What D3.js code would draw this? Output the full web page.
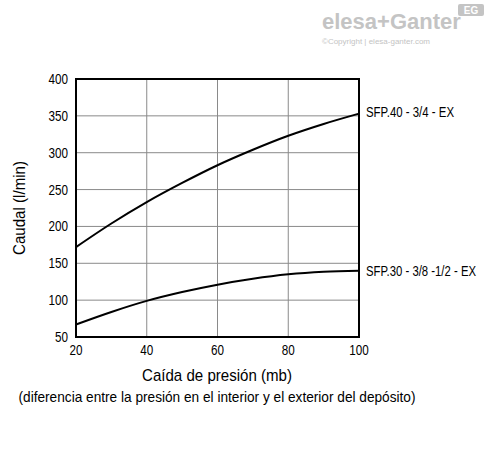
<!DOCTYPE html>
<html>
<head>
<meta charset="utf-8">
<script src="https://cdn.jsdelivr.net/npm/d3@7"></script>
<style>
body { margin: 0; background: #fff; }
text { font-family: "Liberation Sans Narrow", "Arial Narrow", "Liberation Sans", Arial, sans-serif; }
</style>
</head>
<body>
<div id="chart"></div>
<script>
const xTicks = [20, 40, 60, 80, 100];
const yTicks = [50, 100, 150, 200, 250, 300, 350, 400];
const pressure = [20, 30, 40, 50, 60, 70, 80, 90, 100];
const sfp40 = [172, 204, 233, 259, 283, 304, 323, 339, 353];
const sfp30 = [67, 84, 99, 111, 121, 129, 135, 138.5, 140];
const seriesNames = ["SFP.40 - 3/4 - EX", "SFP.30 - 3/8 -1/2 - EX"];

const svg = d3.select("#chart").append("svg")
    .attr("width", 488)
    .attr("height", 454);

const pLeft = 76, pRight = 359, pTop = 79, pBottom = 337;
const x = d3.scaleLinear().domain([20, 100]).range([pLeft, pRight]);
const y = d3.scaleLinear().domain([50, 400]).range([pBottom, pTop]);

// squeeze text to look like the condensed face of the original
function narrow(sel, len) {
    return sel.attr("textLength", len).attr("lengthAdjust", "spacingAndGlyphs");
}

// grid
svg.append("g").selectAll("line").data(xTicks).join("line")
    .attr("x1", d => x(d)).attr("x2", d => x(d))
    .attr("y1", pTop).attr("y2", pBottom)
    .attr("stroke", "#8a8a8a").attr("stroke-width", 1);
svg.append("g").selectAll("line").data(yTicks).join("line")
    .attr("x1", pLeft).attr("x2", pRight)
    .attr("y1", d => y(d)).attr("y2", d => y(d))
    .attr("stroke", "#8a8a8a").attr("stroke-width", 1);

svg.append("rect")
    .attr("x", pLeft).attr("y", pTop)
    .attr("width", pRight - pLeft).attr("height", pBottom - pTop)
    .attr("fill", "none").attr("stroke", "#000").attr("stroke-width", 2);

// tick labels
svg.append("g").selectAll("text").data(xTicks).join("text")
    .attr("x", d => x(d)).attr("y", pBottom + 18)
    .attr("text-anchor", "middle").attr("font-size", 14)
    .attr("textLength", d => String(d).length * 6.5).attr("lengthAdjust", "spacingAndGlyphs")
    .text(d => d);
svg.append("g").selectAll("text").data(yTicks).join("text")
    .attr("x", pLeft - 8).attr("y", d => y(d) + 5)
    .attr("text-anchor", "end").attr("font-size", 14)
    .attr("textLength", d => String(d).length * 6.5).attr("lengthAdjust", "spacingAndGlyphs")
    .text(d => d);

const line = d3.line()
    .x((d, i) => x(pressure[i]))
    .y(d => y(d))
    .curve(d3.curveCatmullRom);

const labelLen = [88, 110];
[sfp40, sfp30].forEach((s, k) => {
    svg.append("path").datum(s)
        .attr("d", line)
        .attr("fill", "none").attr("stroke", "#000").attr("stroke-width", 2);
    narrow(svg.append("text")
        .attr("x", pRight + 7).attr("y", y(s[s.length - 1]) + (k === 0 ? 3 : 5))
        .attr("font-size", 14), labelLen[k])
        .text(seriesNames[k]);
});

narrow(svg.append("text")
    .attr("transform", `translate(25,${(pTop + pBottom) / 2}) rotate(-90)`)
    .attr("text-anchor", "middle").attr("font-size", 17), 94)
    .text("Caudal (l/min)");

narrow(svg.append("text")
    .attr("x", 217).attr("y", 381)
    .attr("text-anchor", "middle").attr("font-size", 17), 150)
    .text("Caída de presión (mb)");

narrow(svg.append("text")
    .attr("x", 217).attr("y", 402)
    .attr("text-anchor", "middle").attr("font-size", 15), 397)
    .text("(diferencia entre la presión en el interior y el exterior del depósito)");

// watermark
const wm = svg.append("g").attr("fill", "#c4c4c4");
wm.append("text").attr("x", 322).attr("y", 29).attr("font-size", 22)
    .attr("font-weight", "bold").text("elesa+Ganter");
wm.append("text").attr("x", 322).attr("y", 44).attr("font-size", 8)
    .text("©Copyright | elesa-ganter.com");
wm.append("rect").attr("x", 458).attr("y", 4).attr("width", 26).attr("height", 12).attr("rx", 2);
wm.append("text").attr("x", 471).attr("y", 14).attr("font-size", 10).attr("fill", "#fff")
    .attr("text-anchor", "middle").attr("font-weight", "bold").text("EG");
</script>
</body>
</html>
